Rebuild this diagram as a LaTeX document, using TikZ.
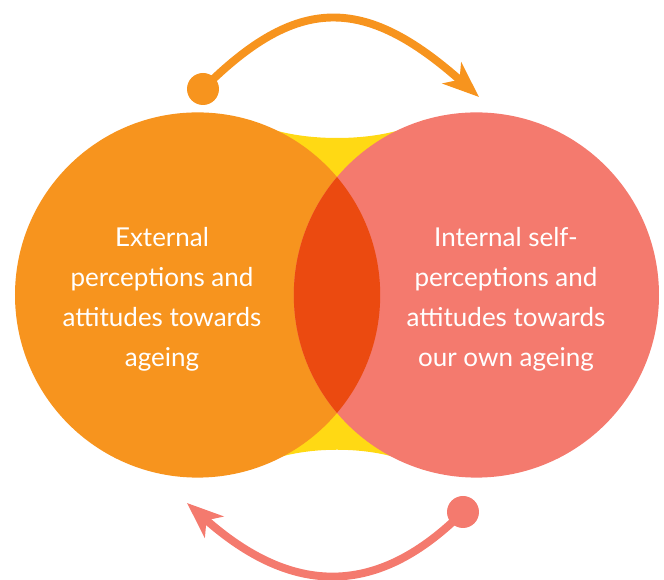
\documentclass[tikz,border=0pt]{standalone}
\usepackage{fontspec}
\setmainfont{Lato}
\usetikzlibrary{arrows.meta}

\definecolor{extorange}{HTML}{F7941E}
\definecolor{intpink}{HTML}{F47A6E}
\definecolor{lensred}{HTML}{EB4A10}
\definecolor{linkyellow}{HTML}{FFD914}

\tikzset{
  label text/.style={text=white, align=center, font=\fontsize{14.8}{22.8}\selectfont},
  dot/.style={circle, inner sep=0pt, minimum size=0.64cm},
  cycle arrow/.style={line width=4.5pt, -{Stealth[length=0.72cm, width=0.56cm, inset=0.2cm]}}
}

\begin{document}
\begin{tikzpicture}[x=0.02cm, y=-0.02cm]

\useasboundingbox (0,0) rectangle (664,580);

% yellow link behind the circles
\fill[linkyellow] (250,120) .. controls (290,144) and (384,144) .. (424,120)
  -- (424,470) .. controls (384,443) and (290,443) .. (250,470) -- cycle;

\coordinate (lc) at (197.6,295);
\coordinate (rc) at (476.4,295);

\fill[extorange] (lc) circle[radius=182.6];
\fill[intpink] (rc) circle[radius=182.6];

\begin{scope}
\clip (lc) circle[radius=182.6];
\fill[lensred] (rc) circle[radius=182.6];
\end{scope}

\node[label text] (external) at (162,299)
  {External\\perceptions and\\attitudes towards\\ageing};
\node[label text] (internal) at (506,299)
  {Internal self-\\perceptions and\\attitudes towards\\our own ageing};

% top arrow
\node[dot, fill=extorange] (topdot) at (203,89) {};
\coordinate (toptip) at (479,97);
\draw[cycle arrow, extorange] (topdot.center) .. controls (297,-5) and (364,-5) .. (toptip);

% bottom arrow
\node[dot, fill=intpink] (botdot) at (463,512) {};
\coordinate (bottip) at (187,503);
\draw[cycle arrow, intpink] (botdot.center) .. controls (378,597) and (293,597) .. (bottip);

\end{tikzpicture}
\end{document}
